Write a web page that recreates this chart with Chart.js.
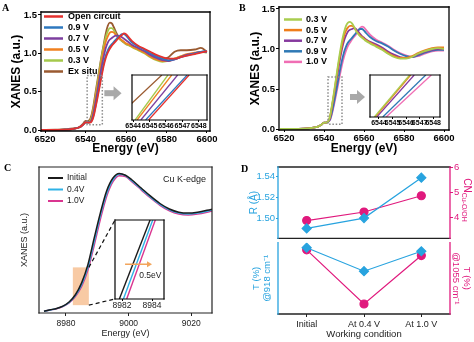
<!DOCTYPE html>
<html>
<head>
<meta charset="utf-8">
<script src="https://cdn.jsdelivr.net/npm/chart.js@4.4.1/dist/chart.umd.min.js"></script>
<style>
  body { margin: 0; background: #fff; }
  #fig { position: relative; width: 474px; height: 342px; overflow: hidden; background: #fff; }
  #fig canvas { position: absolute; }
  .tag { position: absolute; font: bold 10px "Liberation Serif", "Times New Roman", serif; line-height: 1; color: #000; }
</style>
</head>
<body>
<div id="fig">
  <canvas id="chartA" width="237" height="171" style="left:0;top:0"></canvas>
  <canvas id="insetA" width="100" height="62" style="left:118px;top:70px"></canvas>
  <canvas id="chartB" width="237" height="171" style="left:237px;top:0"></canvas>
  <canvas id="insetB" width="100" height="62" style="left:356px;top:70px"></canvas>
  <canvas id="chartC" width="237" height="182" style="left:0;top:160px"></canvas>
  <canvas id="insetC" width="70" height="100" style="left:105px;top:214px"></canvas>
  <canvas id="chartD1" width="237" height="95" style="left:237px;top:150px"></canvas>
  <canvas id="chartD2" width="237" height="105" style="left:237px;top:237px"></canvas>
  <div class="tag" style="left:2px;top:3px">A</div>
  <div class="tag" style="left:239px;top:3px">B</div>
  <div class="tag" style="left:4px;top:163px">C</div>
  <div class="tag" style="left:241px;top:164px">D</div>
</div>
<script>
// ---------- data ----------
// energy grid shared by the spectra of panels A and B (eV)
const energyAB = [6518, 6525, 6530, 6534, 6537, 6539, 6540, 6541, 6542,
  6543, 6544, 6545, 6546, 6547, 6548, 6549, 6550, 6551, 6552, 6553, 6554, 6555, 6556, 6557, 6558, 6559, 6560, 6561,
  6563, 6566, 6569, 6572, 6575, 6578, 6581, 6584, 6587, 6590, 6594, 6597, 6600];

// panel A
const labelsA = ['Open circuit', '0.9 V', '0.7 V', '0.5 V', '0.3 V', 'Ex situ'];
const aOpen = [0, 0, 0.005, 0.015, 0.035, 0.075, 0.1, 0.1, 0.095,
  0.11, 0.18, 0.3, 0.43, 0.57, 0.71, 0.84, 0.94, 1.01, 1.06, 1.1, 1.13, 1.16, 1.19, 1.22, 1.24, 1.26, 1.25, 1.22,
  1.16, 1.1, 1.06, 1.02, 0.98, 0.95, 0.93, 0.93, 0.95, 0.97, 0.99, 1.01, 1.03];
const a09 = [0, 0, 0.005, 0.015, 0.035, 0.075, 0.1, 0.1, 0.1,
  0.12, 0.2, 0.32, 0.46, 0.6, 0.74, 0.87, 0.97, 1.04, 1.09, 1.12, 1.15, 1.18, 1.21, 1.23, 1.25, 1.25, 1.23, 1.2,
  1.14, 1.09, 1.05, 1.0, 0.96, 0.93, 0.91, 0.92, 0.95, 0.97, 1.0, 1.02, 1.03];
const a07 = [0, 0, 0.005, 0.015, 0.035, 0.075, 0.1, 0.1, 0.1,
  0.13, 0.23, 0.37, 0.52, 0.68, 0.83, 0.96, 1.07, 1.14, 1.18, 1.2, 1.22, 1.23, 1.23, 1.22, 1.21, 1.19, 1.17, 1.15,
  1.11, 1.07, 1.03, 0.98, 0.94, 0.91, 0.9, 0.92, 0.95, 0.98, 1.0, 1.02, 1.02];
const a05 = [0, 0, 0.005, 0.015, 0.035, 0.08, 0.1, 0.1, 0.105,
  0.15, 0.27, 0.42, 0.58, 0.75, 0.91, 1.04, 1.15, 1.22, 1.27, 1.28, 1.27, 1.24, 1.21, 1.19, 1.17, 1.15, 1.13, 1.12,
  1.09, 1.05, 1.01, 0.96, 0.92, 0.9, 0.9, 0.93, 0.96, 0.99, 1.01, 1.02, 1.02];
const a03 = [0, 0, 0.005, 0.015, 0.035, 0.08, 0.1, 0.1, 0.11,
  0.17, 0.3, 0.46, 0.63, 0.8, 0.96, 1.1, 1.21, 1.29, 1.33, 1.33, 1.3, 1.25, 1.21, 1.18, 1.16, 1.14, 1.12, 1.11,
  1.08, 1.04, 1.0, 0.95, 0.91, 0.89, 0.9, 0.93, 0.96, 0.98, 1.0, 1.02, 1.01];
const aExSitu = [0, 0.005, 0.01, 0.02, 0.04, 0.09, 0.12, 0.12, 0.13,
  0.2, 0.33, 0.5, 0.66, 0.82, 0.98, 1.12, 1.26, 1.36, 1.4, 1.39, 1.34, 1.28, 1.23, 1.19, 1.16, 1.14, 1.12, 1.11,
  1.09, 1.05, 1.02, 0.98, 0.95, 0.93, 0.95, 1.02, 1.04, 1.04, 1.05, 1.07, 1.02];
// inset A: energy where each trace crosses the lower / upper edge of the zoom window
const insetLevels = [0.2, 0.7];
const insetALow = [6544.94, 6544.76, 6544.47, 6544.24, 6544.12, 6542.83];
const insetAHigh = [6547.41, 6547.29, 6546.71, 6546.35, 6546.12, 6545.75];

// panel B
const labelsB = ['0.3 V', '0.5 V', '0.7 V', '0.9 V', '1.0 V'];
const b03 = [0, 0, 0.005, 0.015, 0.03, 0.06, 0.08, 0.08, 0.09,
  0.16, 0.3, 0.46, 0.63, 0.8, 0.96, 1.1, 1.21, 1.29, 1.33, 1.34, 1.32, 1.28, 1.23, 1.19, 1.16, 1.14, 1.12, 1.1,
  1.07, 1.03, 0.99, 0.94, 0.9, 0.88, 0.88, 0.9, 0.94, 0.97, 1.0, 1.01, 1.0];
const b05 = [0, 0, 0.005, 0.015, 0.03, 0.06, 0.08, 0.08, 0.09,
  0.15, 0.29, 0.44, 0.61, 0.77, 0.92, 1.05, 1.16, 1.23, 1.27, 1.29, 1.29, 1.27, 1.23, 1.2, 1.17, 1.15, 1.13, 1.11,
  1.08, 1.04, 1.0, 0.95, 0.91, 0.89, 0.89, 0.91, 0.95, 0.98, 1.01, 1.02, 1.02];
const b07 = [0, 0, 0.005, 0.015, 0.03, 0.06, 0.08, 0.08, 0.09,
  0.14, 0.27, 0.42, 0.57, 0.72, 0.87, 1.0, 1.1, 1.17, 1.22, 1.24, 1.25, 1.26, 1.25, 1.22, 1.19, 1.16, 1.14, 1.12,
  1.09, 1.06, 1.02, 0.97, 0.93, 0.9, 0.89, 0.9, 0.93, 0.96, 0.99, 1.0, 1.0];
const b09 = [0, 0, 0.005, 0.015, 0.03, 0.06, 0.08, 0.08, 0.09,
  0.12, 0.21, 0.33, 0.46, 0.6, 0.74, 0.86, 0.96, 1.03, 1.08, 1.11, 1.14, 1.17, 1.2, 1.23, 1.25, 1.25, 1.23, 1.2,
  1.15, 1.1, 1.07, 1.03, 0.98, 0.94, 0.91, 0.9, 0.92, 0.95, 0.98, 0.99, 0.99];
const b10 = [0, 0, 0.005, 0.015, 0.03, 0.06, 0.08, 0.08, 0.09,
  0.11, 0.19, 0.3, 0.42, 0.55, 0.68, 0.8, 0.9, 0.98, 1.04, 1.08, 1.12, 1.15, 1.18, 1.22, 1.26, 1.28, 1.27, 1.24,
  1.18, 1.12, 1.08, 1.04, 0.99, 0.95, 0.92, 0.9, 0.91, 0.94, 0.97, 0.98, 0.98];
const insetBLow = [6543.66, 6543.72, 6543.84, 6544.28, 6544.53];
const insetBHigh = [6546.26, 6546.34, 6546.6, 6547.45, 6547.86];

// panel C: Cu K-edge
const energyC = [8973, 8975, 8977, 8979, 8981, 8983, 8985, 8987, 8989, 8991, 8993, 8995, 8997, 8999, 9001,
  9004, 9007, 9010, 9013, 9016, 9019, 9022, 9025, 9028];
const labelsC = ['Initial', '0.4V', '1.0V'];
const cInitial = [0.0, 0.015, 0.03, 0.055, 0.1, 0.18, 0.31, 0.51, 0.8, 1.08, 1.32, 1.46, 1.51, 1.49, 1.44,
  1.35, 1.26, 1.18, 1.12, 1.085, 1.075, 1.085, 1.105, 1.13];
const c04 = [0.0, 0.014, 0.028, 0.052, 0.095, 0.17, 0.29, 0.48, 0.76, 1.05, 1.29, 1.44, 1.50, 1.485, 1.43,
  1.34, 1.25, 1.17, 1.11, 1.075, 1.065, 1.075, 1.095, 1.12];
const c10 = [0.0, 0.013, 0.026, 0.05, 0.09, 0.16, 0.27, 0.45, 0.72, 1.01, 1.26, 1.42, 1.485, 1.475, 1.42,
  1.33, 1.24, 1.16, 1.10, 1.065, 1.055, 1.065, 1.085, 1.11];
const insetCLow = [8981.82, 8982.09, 8982.31];
const insetCHigh = [8983.87, 8984.05, 8984.22];

// panel D
const conditions = ['Initial', 'At 0.4 V', 'At 1.0 V'];
const bondR = [1.490, 1.500, 1.539];
const cnCuO = [3.86, 4.20, 4.85];
const t918 = [93, 60, 88];
const t1055 = [90, 14, 82];

// ---------- styling ----------
const FONT = '"Liberation Sans", Arial, Helvetica, sans-serif';
const bold = size => ({family: FONT, size, weight: 'bold'});
const plain = size => ({family: FONT, size});
const CYAN = '#27a3df';
const PINK = '#e0197d';

Chart.defaults.font.family = FONT;
Chart.defaults.color = '#000';
Chart.defaults.animation = false;
Chart.defaults.responsive = false;
Chart.defaults.plugins.legend.display = false;
Chart.defaults.plugins.tooltip.enabled = false;

// box around the plot area, each side can have its own colour
const framePlugin = {
  id: 'frame',
  beforeDatasetsDraw(chart, args, o) {
    if (!o.fill) return;
    const a = chart.chartArea;
    chart.ctx.save();
    chart.ctx.fillStyle = o.fill;
    chart.ctx.fillRect(a.left, a.top, a.width, a.height);
    chart.ctx.restore();
  },
  afterDatasetsDraw(chart, args, o) {
    const {ctx, chartArea: a} = chart;
    const s = o.sides || {top: '#000', right: '#000', bottom: '#000', left: '#000'};
    ctx.save();
    ctx.lineWidth = o.width || 1.2;
    ctx.lineCap = 'square';
    const seg = (c, x0, y0, x1, y1) => {
      if (!c) return;
      ctx.strokeStyle = c;
      ctx.beginPath(); ctx.moveTo(x0, y0); ctx.lineTo(x1, y1); ctx.stroke();
    };
    seg(s.top, a.left, a.top, a.right, a.top);
    seg(s.bottom, a.left, a.bottom, a.right, a.bottom);
    seg(s.left, a.left, a.top, a.left, a.bottom);
    seg(s.right, a.right, a.top, a.right, a.bottom);
    ctx.restore();
  }
};

// legend: short line + label for every dataset
const lineLegend = {
  id: 'lineLegend',
  afterDraw(chart, args, o) {
    if (!o.x) return;
    const ctx = chart.ctx;
    ctx.save();
    ctx.font = o.font;
    ctx.textBaseline = 'middle';
    chart.data.datasets.forEach((ds, i) => {
      const y = o.y + i * o.dy;
      ctx.strokeStyle = ds.borderColor;
      ctx.lineWidth = o.lineWidth;
      ctx.beginPath(); ctx.moveTo(o.x, y); ctx.lineTo(o.x + o.len, y); ctx.stroke();
      ctx.fillStyle = o.color || '#000';
      ctx.fillText(ds.label, o.x + o.len + o.gap, y);
    });
    ctx.restore();
  }
};

// dotted window over the absorption edge and the grey arrow to the inset
const zoomMarks = {
  id: 'zoomMarks',
  afterDatasetsDraw(chart, args, o) {
    if (!o.box) return;
    const {ctx, scales: {x, y}} = chart;
    const x0 = x.getPixelForValue(o.box[0]), x1 = x.getPixelForValue(o.box[1]);
    const yb = y.getPixelForValue(o.box[2]), yt = y.getPixelForValue(o.box[3]);
    ctx.save();
    ctx.setLineDash([1.5, 1.8]);
    ctx.strokeStyle = '#8c8c8c';
    ctx.lineWidth = 1.5;
    ctx.strokeRect(x0, yt, x1 - x0, yb - yt);
    ctx.setLineDash([]);
    const ax0 = x.getPixelForValue(o.arrow[0]), ax1 = x.getPixelForValue(o.arrow[1]);
    const ay = y.getPixelForValue(o.arrow[2]);
    ctx.fillStyle = '#a9a9a9';
    ctx.fillRect(ax0, ay - 3, ax1 - ax0 - 7, 6);
    ctx.beginPath();
    ctx.moveTo(ax1 - 8, ay - 7); ctx.lineTo(ax1, ay); ctx.lineTo(ax1 - 8, ay + 7);
    ctx.closePath(); ctx.fill();
    ctx.restore();
  }
};

function xanesPanel(id, traces, labels, colors, o) {
  return new Chart(document.getElementById(id), {
    type: 'line',
    data: {
      datasets: traces.map((vals, i) => ({
        label: labels[i],
        data: energyAB.map((e, k) => ({x: e, y: vals[k]})),
        borderColor: colors[i],
        borderWidth: 1.8,
        pointRadius: 0,
        cubicInterpolationMode: 'monotone'
      }))
    },
    options: {
      layout: {padding: o.padding},
      scales: {
        x: {
          type: 'linear', min: o.x[0], max: o.x[1],
          afterFit: s => { s.height = o.xAxisHeight; },
          border: {display: false},
          grid: {drawOnChartArea: false, color: '#000', tickLength: 2},
          ticks: {stepSize: 20, includeBounds: false, maxRotation: 0, padding: 1, font: bold(9.5), callback: v => String(v)},
          title: {display: true, text: 'Energy (eV)', font: bold(12), padding: {top: 0, bottom: 14.8}}
        },
        y: {
          type: 'linear', min: o.y[0], max: o.y[1],
          afterFit: s => { s.width = o.yAxisWidth; },
          border: {display: false},
          grid: {drawOnChartArea: false, color: '#000', tickLength: 3},
          ticks: {stepSize: 0.5, includeBounds: false, padding: 1, font: bold(9.5), callback: v => v.toFixed(1)},
          title: {display: true, text: 'XANES (a.u.)', font: bold(12), padding: {top: o.yTitlePad, bottom: 0}}
        }
      },
      plugins: {
        frame: {width: 1.3},
        lineLegend: o.legend,
        zoomMarks: o.marks
      }
    },
    plugins: [framePlugin, lineLegend, zoomMarks]
  });
}

function insetPanel(id, lows, highs, levels, colors, o) {
  return new Chart(document.getElementById(id), {
    type: 'line',
    data: {
      datasets: lows.map((e, i) => ({
        data: [{x: e, y: levels[0]}, {x: highs[i], y: levels[1]}],
        borderColor: colors[i],
        borderWidth: o.lineWidth,
        pointRadius: 0
      }))
    },
    options: {
      layout: {padding: o.padding},
      scales: {
        x: {
          type: 'linear', min: o.x[0], max: o.x[1],
          afterFit: s => { s.height = o.axisHeight; },
          border: {display: false},
          grid: {drawOnChartArea: false, color: '#000', tickLength: 2},
          ticks: {stepSize: o.step, includeBounds: false, autoSkip: false, maxRotation: 0, padding: 0,
            font: o.font, color: o.color || '#000', callback: v => String(v)}
        },
        y: {display: false, min: levels[0], max: levels[1]}
      },
      plugins: Object.assign({frame: {width: 1.2, fill: '#fff'}}, o.pluginOptions || {})
    },
    plugins: [framePlugin].concat(o.extra || [])
  });
}

// ---------- A ----------
const colorsA = ['#e5312e', '#2e78bf', '#7d3f9f', '#f0801f', '#a5c94b', '#9a5a30'];
xanesPanel('chartA', [aOpen, a09, a07, a05, a03, aExSitu], labelsA, colorsA, {
  padding: {left: 0, top: 12, right: 27, bottom: 0},
  x: [6518, 6601.5], y: [-0.013, 1.539],
  xAxisHeight: 40, yAxisWidth: 41, yTitlePad: 9.8,
  legend: {x: 44, y: 16.5, dy: 11, len: 19, gap: 5, lineWidth: 2.5, font: 'bold 9px ' + FONT},
  marks: {box: [6540.8, 6548.3, 0.07, 0.71], arrow: [6549.3, 6557.8, 0.48]}
});
insetPanel('insetA', insetALow, insetAHigh, insetLevels, colorsA, {
  padding: {left: 14, right: 11, top: 5, bottom: 0},
  x: [6543.93, 6548.5], step: 1, axisHeight: 12, lineWidth: 1.3, font: bold(7)
});

// ---------- B ----------
const colorsB = ['#a9cd4f', '#ef7d1a', '#86399e', '#2f79b5', '#f06eb4'];
xanesPanel('chartB', [b03, b05, b07, b09, b10], labelsB, colorsB, {
  padding: {left: 0, top: 7, right: 25, bottom: 0},
  x: [6517.5, 6602.5], y: [-0.0125, 1.525],
  xAxisHeight: 41, yAxisWidth: 42, yTitlePad: 11,
  legend: {x: 47, y: 19.5, dy: 10.6, len: 18, gap: 4, lineWidth: 2.5, font: 'bold 9px ' + FONT},
  marks: {box: [6542, 6549, 0.06, 0.65], arrow: [6553, 6560.5, 0.4]}
});
insetPanel('insetB', insetBLow, insetBHigh, insetLevels, colorsB, {
  padding: {left: 14, right: 16, top: 5, bottom: 0},
  x: [6543.34, 6548.5], step: 1, axisHeight: 15, lineWidth: 1.3, font: bold(7)
});

// ---------- C ----------
// peach window over the edge with dashed leaders to the inset
const edgeWindow = {
  id: 'edgeWindow',
  beforeDatasetsDraw(chart, args, o) {
    const {ctx, scales: {x, y}} = chart;
    const x0 = x.getPixelForValue(o.box[0]), x1 = x.getPixelForValue(o.box[1]);
    const yb = y.getPixelForValue(o.box[2]), yt = y.getPixelForValue(o.box[3]);
    ctx.save();
    ctx.fillStyle = '#f8caa4';
    ctx.fillRect(x0, yt, x1 - x0, yb - yt);
    ctx.restore();
  },
  afterDatasetsDraw(chart, args, o) {
    const {ctx, scales: {x, y}} = chart;
    const x1 = x.getPixelForValue(o.box[1]);
    const yb = y.getPixelForValue(o.box[2]), yt = y.getPixelForValue(o.box[3]);
    ctx.save();
    ctx.strokeStyle = '#111';
    ctx.lineWidth = 1.2;
    ctx.setLineDash([4, 3]);
    ctx.beginPath();
    ctx.moveTo(x1, yt); ctx.lineTo(o.leaderTo[0], o.leaderTo[1]);
    ctx.moveTo(x1, yb); ctx.lineTo(o.leaderTo[0], o.leaderTo[2]);
    ctx.stroke();
    ctx.setLineDash([]);
    ctx.fillStyle = '#222';
    ctx.font = '9px ' + FONT;
    ctx.textBaseline = 'middle';
    ctx.fillText(o.note, o.noteAt[0], o.noteAt[1]);
    ctx.restore();
  }
};

new Chart(document.getElementById('chartC'), {
  type: 'line',
  data: {
    datasets: [cInitial, c04, c10].map((vals, i) => ({
      label: labelsC[i],
      data: energyC.map((e, k) => ({x: e, y: vals[k]})),
      borderColor: ['#1b1b1b', '#2fb2e6', '#da3590'][i],
      borderWidth: 1.5,
      pointRadius: 0,
      cubicInterpolationMode: 'monotone'
    }))
  },
  options: {
    layout: {padding: {left: 0, top: 7, right: 25, bottom: 0}},
    scales: {
      x: {
        type: 'linear', min: 8971.4, max: 9026.6,
        afterFit: s => { s.height = 29; },
        border: {display: false},
        grid: {drawOnChartArea: false, color: '#222', tickLength: 3},
        ticks: {stepSize: 20, includeBounds: false, maxRotation: 0, padding: 3, color: '#222', font: plain(8.5), callback: v => String(v)},
        title: {display: true, text: 'Energy (eV)', color: '#222', font: plain(9), padding: {top: 0, bottom: 2.6}}
      },
      y: {
        type: 'linear', min: -0.02, max: 1.58,
        afterFit: s => { s.width = 39; },
        border: {display: false},
        grid: {display: false},
        ticks: {display: false},
        title: {display: true, text: 'XANES (a.u.)', color: '#222', font: plain(9), padding: {top: 19.6, bottom: 0}}
      }
    },
    plugins: {
      frame: {width: 1.2, sides: {top: '#222', right: '#222', bottom: '#222', left: '#222'}},
      lineLegend: {x: 48, y: 18, dy: 11.5, len: 15, gap: 4, lineWidth: 2, color: '#222', font: '8.5px ' + FONT},
      edgeWindow: {box: [8982.2, 8987.3, 0.066, 0.48], leaderTo: [115, 60, 139], note: 'Cu K-edge', noteAt: [163, 20]}
    }
  },
  plugins: [edgeWindow, framePlugin, lineLegend]
});

// inset C: the edge shift arrow and its label
const shiftArrow = {
  id: 'shiftArrow',
  afterDatasetsDraw(chart, args, o) {
    const {ctx, scales: {x, y}} = chart;
    const x0 = x.getPixelForValue(o.from), x1 = x.getPixelForValue(o.to), ay = y.getPixelForValue(o.level);
    ctx.save();
    ctx.strokeStyle = ctx.fillStyle = '#f2a55c';
    ctx.lineWidth = 1.5;
    ctx.beginPath(); ctx.moveTo(x0, ay); ctx.lineTo(x1 - 4, ay); ctx.stroke();
    ctx.beginPath(); ctx.moveTo(x1 - 5, ay - 3); ctx.lineTo(x1, ay); ctx.lineTo(x1 - 5, ay + 3); ctx.closePath(); ctx.fill();
    ctx.fillStyle = '#222';
    ctx.font = '8.5px ' + FONT;
    ctx.textBaseline = 'middle';
    ctx.fillText(o.text, x.getPixelForValue(o.textAt[0]), y.getPixelForValue(o.textAt[1]));
    ctx.restore();
  }
};
insetPanel('insetC', insetCLow, insetCHigh, [0, 1], ['#1b1b1b', '#2fb2e6', '#da3590'], {
  padding: {left: 10, right: 11, top: 6, bottom: 0},
  x: [8981.53, 8984.8], step: 2, axisHeight: 15, lineWidth: 1.4, font: plain(8.5), color: '#222',
  pluginOptions: {shiftArrow: {from: 8982.2, to: 8984.0, level: 0.44, text: '0.5eV', textAt: [8983.15, 0.3]}},
  extra: [shiftArrow]
});

// ---------- D ----------
// rotated right-hand title with subscript
const cnTitle = {
  id: 'cnTitle',
  afterDraw(chart, args, o) {
    const ctx = chart.ctx;
    ctx.save();
    ctx.translate(o.x, o.y);
    ctx.rotate(Math.PI / 2);
    ctx.fillStyle = PINK;
    ctx.textBaseline = 'middle';
    ctx.font = '10px ' + FONT;
    const w1 = ctx.measureText(o.main).width;
    ctx.font = '7px ' + FONT;
    const w2 = ctx.measureText(o.sub).width;
    const start = -(w1 + w2) / 2;
    ctx.font = '10px ' + FONT;
    ctx.fillText(o.main, start, 0);
    ctx.font = '7px ' + FONT;
    ctx.fillText(o.sub, start + w1, 3.5);
    ctx.restore();
  }
};

new Chart(document.getElementById('chartD1'), {
  type: 'line',
  data: {
    labels: conditions,
    datasets: [
      {data: bondR, yAxisID: 'yR', borderColor: CYAN, backgroundColor: CYAN, borderWidth: 1.2,
        pointStyle: 'rectRot', pointRadius: 4.5, tension: 0},
      {data: cnCuO, yAxisID: 'yCN', borderColor: PINK, backgroundColor: PINK, borderWidth: 1.2,
        pointStyle: 'circle', pointRadius: 4, tension: 0}
    ]
  },
  options: {
    layout: {padding: {left: 0, right: 0, top: 17, bottom: 4}},
    scales: {
      x: {type: 'category', display: false, offset: true},
      yR: {
        position: 'left', min: 1.4805, max: 1.5493,
        afterFit: s => { s.width = 41; },
        border: {display: false},
        grid: {drawOnChartArea: false, color: CYAN, tickLength: 2},
        ticks: {stepSize: 0.02, includeBounds: false, padding: 1, color: CYAN, font: plain(9.5), callback: v => v.toFixed(2)},
        title: {display: true, text: 'R (Å)', color: CYAN, font: plain(10), padding: {top: 11, bottom: 0}}
      },
      yCN: {
        position: 'right', min: 3.15, max: 6.0,
        afterFit: s => { s.width = 24; },
        border: {display: false},
        grid: {drawOnChartArea: false, color: PINK, tickLength: 3},
        ticks: {stepSize: 1, includeBounds: false, padding: 1, color: PINK, font: plain(9.5), callback: v => String(v)}
      }
    },
    plugins: {
      frame: {width: 1.3, sides: {top: '#222', bottom: '#222', left: CYAN, right: PINK}},
      cnTitle: {x: 230, y: 50, main: 'CN', sub: 'Cu-O/OH'}
    }
  },
  plugins: [framePlugin, cnTitle]
});

new Chart(document.getElementById('chartD2'), {
  type: 'line',
  data: {
    labels: conditions,
    datasets: [
      {data: t918, yAxisID: 'yT1', borderColor: CYAN, backgroundColor: CYAN, borderWidth: 1.2,
        pointStyle: 'rectRot', pointRadius: 4.5, tension: 0},
      {data: t1055, yAxisID: 'yT2', borderColor: PINK, backgroundColor: PINK, borderWidth: 1.2,
        pointStyle: 'circle', pointRadius: 4, tension: 0}
    ]
  },
  options: {
    layout: {padding: {left: 0, right: 0, top: 4, bottom: 0}},
    scales: {
      x: {
        type: 'category', offset: true,
        afterFit: s => { s.height = 28; },
        border: {display: false},
        grid: {drawOnChartArea: false, color: '#222', tickLength: 3},
        ticks: {padding: 2, color: '#222', font: plain(9), maxRotation: 0, autoSkip: false},
        title: {display: true, text: 'Working condition', color: '#222', font: plain(9.5), padding: {top: 0, bottom: 1.5}}
      },
      yT1: {
        position: 'left', min: 0, max: 100,
        afterFit: s => { s.width = 41; },
        border: {display: false},
        grid: {display: false},
        ticks: {display: false},
        title: {display: true, text: ['T (%)', '@918 cm⁻¹'], color: CYAN, font: plain(9.5), padding: {top: 13.3, bottom: 0}}
      },
      yT2: {
        position: 'right', min: 0, max: 100,
        afterFit: s => { s.width = 24; },
        border: {display: false},
        grid: {display: false},
        ticks: {display: false},
        title: {display: true, text: ['T (%)', '@1055 cm⁻¹'], color: PINK, font: plain(9.5), padding: {top: 1.3, bottom: 0}}
      }
    },
    plugins: {
      frame: {width: 1.3, sides: {top: null, bottom: '#222', left: CYAN, right: PINK}}
    }
  },
  plugins: [framePlugin]
});
</script>
</body>
</html>
